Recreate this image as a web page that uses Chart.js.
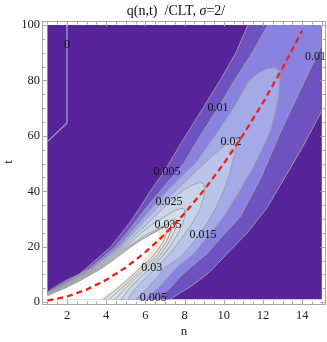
<!DOCTYPE html>
<html>
<head>
<meta charset="utf-8">
<script src="https://cdn.jsdelivr.net/npm/chart.js@4.4.1/dist/chart.umd.min.js"></script>
<style>
  html, body { margin: 0; padding: 0; background: #fff; }
</style>
</head>
<body>
<canvas id="chart" width="327" height="342"></canvas>
<script>
// ridge t = n^2/2
const ridgeN = [1, 2, 3, 4, 5, 6, 7, 8, 9, 10, 11, 12, 13, 14];
const ridgeT = [0.5, 2, 4.5, 8, 12.5, 18, 24.5, 32, 40.5, 50, 60.5, 72, 84.5, 98];

// the q = 0 line in the upper left corner
const zeroLine = [[2, 101], [2, 64.6], [1, 57.9], [0.8, 56.6]];

// contour regions [n, t], each closed polygon is the area above the level
const c005 = [[0.5, -5], [0.5, 3.6], [1.0, 3.6], [1.5, 6], [2.0, 8], [2.61, 10], [2.95, 12], [3.6, 16], [4.24, 20], [4.8, 25], [5.34, 30], [5.8, 35], [6.25, 40], [6.75, 45], [7.2, 50], [8.05, 60], [8.94, 70], [9.81, 80], [10.62, 90], [11.23, 100], [11.5, 105], [16.5, 105], [16.5, 75], [15.0, 69], [14.1, 57], [13.2, 46], [12.2, 34], [11.2, 25], [10.1, 17], [9.3, 11], [8.4, 6], [7.7, 3], [7.26, 1], [7.0, -5]];
const c010 = [[0.5, -5], [0.5, 3.4], [1.0, 3.4], [1.42, 5], [2.16, 8], [3.12, 12], [3.8, 16], [4.46, 20], [5.05, 25], [5.6, 30], [6.15, 35], [6.75, 40], [7.35, 45], [7.95, 50], [8.8, 60], [9.7, 70], [10.55, 80], [11.45, 90], [12.25, 100], [12.6, 105], [16.5, 105], [16.5, 101], [15.0, 92.8], [14.0, 78], [12.87, 61], [11.9, 45], [10.83, 30.7], [9.7, 22], [9.15, 17.5], [8.3, 12.5], [7.75, 9], [7.25, 5], [6.59, 1], [6.4, -5]];
const c015 = [[0.5, -5], [0.5, 3.25], [1.0, 3.25], [1.52, 5], [2.28, 8], [3.25, 12], [3.95, 16], [4.63, 20], [5.25, 25], [5.85, 30], [6.45, 35], [7.1, 40], [7.8, 45], [8.55, 50], [9.55, 60], [10.5, 70], [11.3, 80], [11.8, 82.8], [12.25, 84.2], [12.6, 84.5], [12.85, 83.3], [12.85, 80], [12.8, 74], [12.4, 62], [11.6, 50], [10.8, 40], [9.9, 30], [9.2, 24], [8.5, 17.7], [7.6, 12.5], [7.15, 9], [6.65, 5], [6.03, 1], [5.8, -5]];
const c020 = [[0.5, -5], [0.5, 3.1], [1.0, 3.1], [1.6, 5], [2.38, 8], [3.35, 12], [4.07, 16], [4.76, 20], [5.4, 25], [6.05, 30], [6.75, 35], [7.5, 40], [8.4, 46], [9.3, 52], [9.95, 56], [10.35, 58.6], [10.6, 59.2], [10.7, 58.2], [10.62, 56.5], [10.5, 52], [10.28, 46], [9.98, 40], [9.6, 34], [9.1, 28], [8.45, 21.5], [7.75, 16], [7.0, 12.5], [6.6, 9], [6.1, 5], [5.52, 1], [5.3, -5]];
const c025 = [[0.5, -5], [0.5, 2.95], [1.0, 2.95], [1.67, 5], [2.46, 8], [3.44, 12], [4.18, 16], [4.88, 20], [5.6, 25], [6.35, 30], [7.2, 36], [7.85, 40], [8.35, 42], [8.75, 43.2], [8.98, 42.8], [9.02, 41], [8.98, 38], [8.75, 33], [8.35, 28], [7.85, 23], [7.25, 17.5], [6.58, 12.5], [6.05, 9], [5.5, 5], [5.11, 1], [4.95, -5]];
const c030 = [[0.5, -5], [0.5, 2.8], [1.0, 2.8], [1.74, 5], [2.54, 8], [3.53, 12], [4.28, 16], [5.0, 20], [5.8, 25], [6.35, 28], [7.0, 31], [7.55, 33.2], [7.85, 33.9], [8.02, 33.2], [8.02, 31.5], [7.92, 28.5], [7.65, 24.5], [7.25, 20], [6.8, 16], [6.3, 12.5], [5.75, 9], [5.2, 5], [4.76, 1], [4.6, -5]];
const c035 = [[0.5, -5], [0.5, 2.6], [1.0, 2.6], [1.8, 5], [2.62, 8], [3.6, 12], [4.37, 16], [5.1, 20], [5.95, 24], [6.45, 25.8], [6.95, 27.4], [7.3, 29.0], [7.5, 30.2], [7.6, 29.3], [7.58, 28], [7.45, 25], [7.1, 20.5], [6.65, 16], [6.08, 12.5], [5.55, 9], [4.97, 5], [4.45, 1], [4.3, -5]];
const c040 = [[0.5, -5], [0.5, 2.45], [1.0, 2.45], [1.85, 5], [2.68, 8], [3.67, 12], [4.45, 16], [5.2, 20], [5.85, 23], [6.45, 25.3], [6.9, 27.0], [7.15, 28.2], [7.3, 27.9], [7.3, 25.5], [7.05, 21.5], [6.5, 16], [5.9, 12.5], [5.4, 9], [4.78, 5], [4.14, 1], [4.0, -5]];
const c045 = [[0.5, -5], [0.5, 2.25], [1.0, 2.25], [1.9, 5], [2.74, 8], [3.73, 12], [4.52, 16], [5.27, 20], [5.8, 22.5], [6.5, 25.3], [6.8, 26.5], [6.98, 27.1], [7.08, 26.4], [7.05, 24.5], [6.9, 21.5], [6.6, 18.5], [6.25, 15.5], [5.75, 12.5], [5.25, 9], [4.6, 5], [3.89, 1], [3.75, -5]];
const above = [[0.5, -5], [0.5, 1.5], [1.0, 2.0], [1.95, 5], [2.8, 8], [3.8, 12], [4.6, 16], [5.35, 20], [5.9, 22.5], [6.45, 24.8], [6.65, 25.3], [6.6, 23.5], [6.55, 22], [6.3, 18.5], [5.95, 15.5], [5.6, 12.5], [5.1, 9], [4.45, 5], [3.69, 1.1], [3.6, -5]];
const plotBox = [[0.5, -5], [16.5, -5], [16.5, 105], [0.5, 105]];

// contour labels
const labelText = ['0', '0.01', '0.01', '0.02', '0.005', '0.025', '0.035', '0.015', '0.03', '0.005'];
const labelN = [2.0, 14.68, 9.7, 10.37, 7.1, 7.2, 7.15, 8.94, 6.33, 6.4];
const labelT = [92.8, 88.4, 70.0, 57.8, 46.9, 36.1, 27.8, 24.2, 12.5, 1.5];

// axes
const xTicks = [2, 4, 6, 8, 10, 12, 14];
const yTicks = [0, 20, 40, 60, 80, 100];
const frameN = [0.725, 15.22];
const frameT = [-1.06, 101.35];

const SERIF = "'Liberation Serif', 'Times New Roman', serif";
const LINE = 'rgba(158,158,162,0.95)';

const toPts = arr => arr.map(([x, y]) => ({ x, y }));

function region(points, color, border) {
  return {
    data: toPts(points),
    backgroundColor: color,
    borderColor: LINE,
    borderWidth: border === undefined ? 1 : border,
    fill: 'shape',
    pointRadius: 0,
    clip: 0
  };
}

const decor = {
  id: 'decor',
  beforeDatasetDraw(chart, args) {
    if (args.index !== 0) return;
    const { ctx, scales: { x, y } } = chart;
    ctx.save();
    ctx.font = `12px ${SERIF}`;
    ctx.fillStyle = '#111';
    ctx.textAlign = 'center';
    ctx.textBaseline = 'middle';
    labelText.forEach((txt, i) => {
      ctx.fillText(txt, x.getPixelForValue(labelN[i]), y.getPixelForValue(labelT[i]));
    });
    ctx.restore();
  },
  afterDraw(chart) {
    const { ctx, scales: { x, y } } = chart;
    const left = Math.round(x.getPixelForValue(frameN[0])) + 0.5;
    const right = Math.round(x.getPixelForValue(frameN[1])) - 0.5;
    const top = Math.round(y.getPixelForValue(frameT[1])) + 0.5;
    const bottom = Math.round(y.getPixelForValue(frameT[0])) - 0.5;

    ctx.save();
    ctx.strokeStyle = '#a8a8a8';
    ctx.lineWidth = 1;
    ctx.strokeRect(left, top, right - left, bottom - top);

    ctx.beginPath();
    for (let v = 1; v <= 15; v += 0.5) {
      const px = Math.round(x.getPixelForValue(v)) + 0.5;
      const len = xTicks.includes(v) ? 5 : 3;
      ctx.moveTo(px, bottom); ctx.lineTo(px, bottom - len);
      ctx.moveTo(px, top); ctx.lineTo(px, top + len);
    }
    for (let v = 0; v <= 100; v += 5) {
      const py = Math.round(y.getPixelForValue(v)) + 0.5;
      const len = yTicks.includes(v) ? 5 : 3;
      ctx.moveTo(left, py); ctx.lineTo(left + len, py);
      ctx.moveTo(right, py); ctx.lineTo(right - len, py);
    }
    ctx.stroke();

    ctx.fillStyle = '#222';
    ctx.font = `12.5px ${SERIF}`;
    ctx.textAlign = 'center';
    ctx.textBaseline = 'middle';
    xTicks.forEach(v => ctx.fillText(String(v), x.getPixelForValue(v), bottom + 11.5));
    ctx.textAlign = 'right';
    yTicks.forEach(v => ctx.fillText(String(v), left - 2.5, y.getPixelForValue(v)));

    ctx.textAlign = 'center';
    ctx.font = `13px ${SERIF}`;
    ctx.fillText('n', (left + right) / 2, 332);
    ctx.save();
    ctx.translate(9, 162);
    ctx.rotate(-Math.PI / 2);
    ctx.fillText('t', 0, 0);
    ctx.restore();

    // title with italic sigma
    const parts = [['q(n,t)  /CLT, ', ''], ['σ', 'italic '], ['=2/', '']];
    let total = 0;
    parts.forEach(([s, st]) => { ctx.font = `${st}14px ${SERIF}`; total += ctx.measureText(s).width; });
    let cx = 176 - total / 2;
    ctx.textAlign = 'left';
    ctx.fillStyle = '#111';
    parts.forEach(([s, st]) => {
      ctx.font = `${st}14px ${SERIF}`;
      ctx.fillText(s, cx, 11.5);
      cx += ctx.measureText(s).width;
    });
    ctx.restore();
  }
};

new Chart(document.getElementById('chart'), {
  type: 'line',
  data: {
    datasets: [
      {
        data: ridgeN.map((n, i) => ({ x: n, y: ridgeT[i] })),
        borderColor: '#e8221c',
        borderWidth: 2.3,
        borderDash: [6, 4],
        pointRadius: 0,
        fill: false,
        clip: 3
      },
      {
        data: toPts(zeroLine),
        borderColor: 'rgba(172,160,205,0.95)',
        borderWidth: 1.3,
        pointRadius: 0,
        fill: false,
        clip: 0
      },
      region(above, '#ffffff', 0),
      region(c045, '#ede8d9'),
      region(c040, '#e5e4dc'),
      region(c035, '#dde2e4'),
      region(c030, '#d3dce9'),
      region(c025, '#c8d4ea'),
      region(c020, '#b8c4ea'),
      region(c015, '#a4a9e8'),
      region(c010, '#8a82e0'),
      region(c005, '#6e52bf'),
      region(plotBox, '#57239a', 0)
    ]
  },
  options: {
    responsive: false,
    animation: false,
    events: [],
    layout: { padding: { left: 47.4, right: 5.2, top: 25, bottom: 42.7 } },
    elements: { line: { borderJoinStyle: 'round', tension: 0 } },
    scales: {
      x: { type: 'linear', min: 1, max: 15, display: false },
      y: { type: 'linear', min: 1, max: 100, display: false }
    },
    plugins: { legend: { display: false }, tooltip: { enabled: false } }
  },
  plugins: [decor]
});
</script>
</body>
</html>
